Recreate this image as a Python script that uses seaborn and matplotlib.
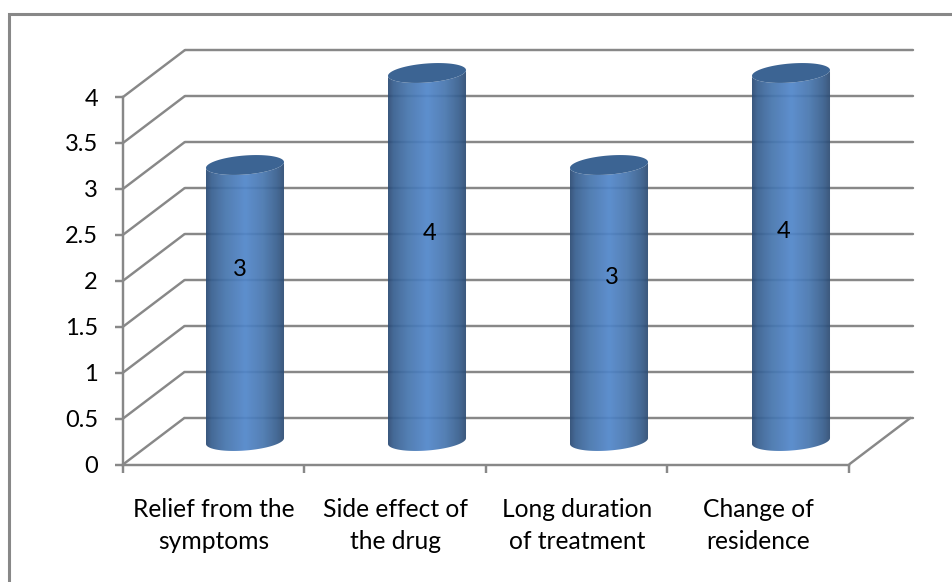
import numpy as np
import pandas as pd
import matplotlib
matplotlib.use("Agg")
import matplotlib.pyplot as plt
from matplotlib.colors import LinearSegmentedColormap
from matplotlib.lines import Line2D
from matplotlib.patches import Polygon
import seaborn as sns

categories = ["Relief from the\nsymptoms", "Side effect of\nthe drug",
              "Long duration\nof treatment", "Change of\nresidence"]
counts = [3, 4, 3, 4]
value_ticks = [0, 0.5, 1, 1.5, 2, 2.5, 3, 3.5, 4]
value_tick_labels = ["0", "0.5", "1", "1.5", "2", "2.5", "3", "3.5", "4"]

# pixel nudges of the value labels away from each bar's middle
label_nudges = [(-5, 33), (3, 23), (3, 25), (-7, 26)]

W, H = 953, 582
GREY = "#888888"
LW = 1.75
FONT = 17

sns.set_theme(style="white")
plt.rcParams["font.family"] = ["Lato", "DejaVu Sans"]

fig = plt.figure(figsize=(W / 100, H / 100), dpi=100, facecolor="white")


def plane(left, right, y0, y_top):
    ax = fig.add_axes([left / W, 1 - y0 / H, (right - left) / W, (y0 - y_top) / H])
    ax.patch.set_visible(False)
    ax.set_xlim(-0.5, 3.5)
    ax.set_ylim(0, 4)
    return ax


# Chart frame: only its top and left edges fall inside the canvas
fig.add_artist(Line2D([1, 9.5 / W, 9.5 / W], [1 - 13.5 / H, 1 - 13.5 / H, 0],
                      transform=fig.transFigure, color=GREY, linewidth=2.2,
                      solid_joinstyle="miter", solid_capstyle="butt"))

# Back wall of the 3-D box
ax_back = plane(185, 913, 418, 50)
ax_back.set_yticks(value_ticks)
ax_back.set_xticks([])
ax_back.grid(axis="y", color=GREY, linewidth=LW)
ax_back.tick_params(left=False, labelleft=False)
for gridline in ax_back.get_ygridlines():
    gridline.set_clip_on(False)
sns.despine(ax=ax_back, left=True, bottom=True)

# Front plane carries the axes, ticks and labels
ax_front = plane(123, 849, 464.5, 97)
ax_front.set_yticks(value_ticks)
ax_front.set_yticklabels(value_tick_labels, fontsize=FONT, color="black")
ax_front.set_xticks(np.arange(-0.5, 4))
ax_front.set_xticklabels([])
ax_front.set_xticks(np.arange(len(categories)), minor=True)
ax_front.set_xticklabels(categories, minor=True, fontsize=FONT + 0.7, color="black",
                         linespacing=1.46)
ax_front.tick_params(axis="both", which="major", length=6, width=LW, color=GREY,
                     left=True, bottom=True)
ax_front.tick_params(axis="y", pad=12)
ax_front.tick_params(axis="x", which="minor", length=0, pad=24, bottom=False)
sns.despine(ax=ax_front)
for side in ("left", "bottom"):
    ax_front.spines[side].set_color(GREY)
    ax_front.spines[side].set_linewidth(LW)

# Depth lines joining the front plane to the back wall
depth_x = 62 / (726 / 4)
depth_y = 47 / (367.5 / 4)
for v in value_ticks:
    ax_front.plot([-0.5, -0.5 + depth_x], [v, v + depth_y], color=GREY,
                  linewidth=LW, clip_on=False, solid_capstyle="butt")
ax_front.plot([3.5, 3.5 + depth_x], [0, depth_y], color=GREY, linewidth=LW,
              clip_on=False, solid_capstyle="butt")

# Bars sit halfway between the front plane and the back wall
ax_mid = plane(154, 882, 441, 73)
df = pd.DataFrame({"reason": categories, "count": counts})
sns.barplot(data=df, x="reason", y="count", ax=ax_mid, width=0.43, color="#4f81bd",
            saturation=1, legend=False)
ax_mid.axis("off")

cylinder_cmap = LinearSegmentedColormap.from_list(
    "cylinder",
    [(0.0, "#2b4a73"), (0.07, "#375f90"), (0.25, "#4675ad"), (0.5, "#5186ca"),
     (0.72, "#4877b0"), (0.9, "#385f8e"), (1.0, "#2c4a70")])
shade = cylinder_cmap(np.linspace(0, 1, 256))[None, :, :].copy()
shade[..., 3] = 0.93

px_x = 728 / 4
px_y = 368 / 4
tilt = np.radians(4.5)
minor_px = 9.5


def ellipse_arc(cx, cy, half_px, start, stop):
    t = np.linspace(start, stop, 80)
    ex = half_px * np.cos(t) * np.cos(tilt) - minor_px * np.sin(t) * np.sin(tilt)
    ey = half_px * np.cos(t) * np.sin(tilt) + minor_px * np.sin(t) * np.cos(tilt)
    return np.column_stack([cx + ex / px_x, cy + ey / px_y])


for bar, value, nudge in zip(list(ax_mid.patches), counts, label_nudges):
    bar.set_alpha(0)
    x0 = bar.get_x()
    w = bar.get_width()
    cx = x0 + w / 2
    top = bar.get_height()
    half_px = w * px_x / 2
    outline = np.vstack([ellipse_arc(cx, 0, half_px, np.pi, 2 * np.pi),
                         ellipse_arc(cx, top, half_px, 2 * np.pi, np.pi)])
    body = Polygon(outline, closed=True, transform=ax_mid.transData,
                   facecolor="none", edgecolor="none", clip_on=False)
    ax_mid.add_patch(body)
    img = ax_mid.imshow(shade, extent=(x0, x0 + w, -0.5, top + 0.5), aspect="auto",
                        interpolation="bilinear", zorder=3)
    img.set_clip_box(fig.bbox)
    img.set_clip_path(body)
    ax_mid.add_patch(Polygon(ellipse_arc(cx, top, half_px, 0, 2 * np.pi), closed=True,
                             facecolor="#3c6493", edgecolor="none", zorder=4,
                             clip_on=False))
    ax_mid.annotate(str(value), (cx, top / 2),
                    xytext=(nudge[0] * 0.72, nudge[1] * 0.72),
                    textcoords="offset points", ha="center", va="center",
                    fontsize=FONT, color="black", zorder=5)

ax_mid.set_xlim(-0.5, 3.5)
ax_mid.set_ylim(0, 4)

fig.savefig("out.png", dpi=100, facecolor="white")
